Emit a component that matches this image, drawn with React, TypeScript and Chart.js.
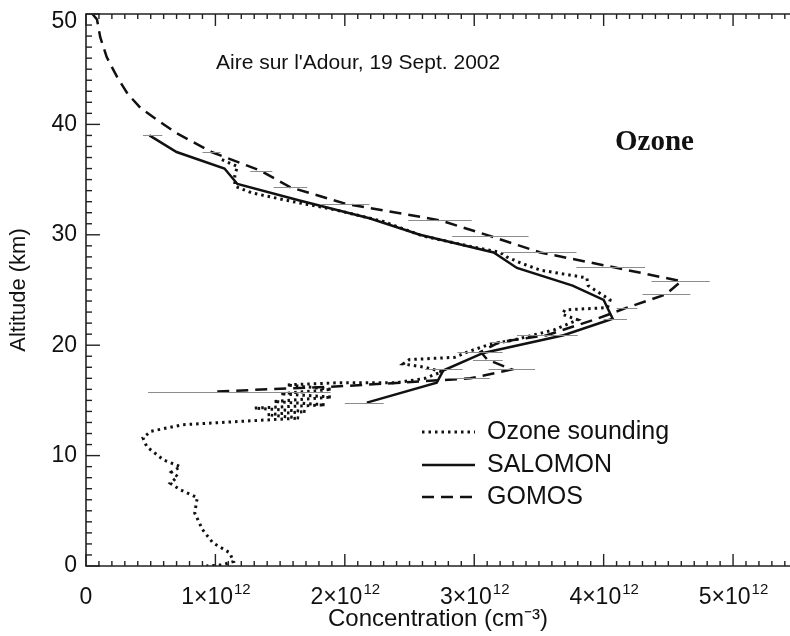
import React, { useEffect, useRef } from "react";
import { Chart, registerables } from "chart.js";

Chart.register(...registerables);

// Concentrations are in units of 10^12 cm^-3, altitudes in km.

// Ozone sounding
const sondeConc = [1.05, 1.17, 1.15, 1.15, 1.28, 1.6, 1.95, 2.3, 2.6, 2.95, 3.2, 3.25, 3.37, 3.51, 3.87, 3.88, 4.05, 4.03, 3.7, 3.68, 3.8, 3.62, 3.35, 3.1, 2.95, 2.85, 2.5, 2.45, 2.62, 2.75, 2.62, 2.4, 1.95, 1.55, 1.9, 1.5, 1.9, 1.45, 1.85, 1.3, 1.7, 1.4, 1.65, 1.2, 0.75, 0.5, 0.44, 0.47, 0.6, 0.73, 0.66, 0.71, 0.65, 0.73, 0.86, 0.84, 0.9, 0.98, 1.11, 1.14, 1.05, 0.93];
const sondeAlt = [36.8, 36.2, 35.4, 34.4, 33.8, 33.0, 32.2, 31.2, 29.9, 29.0, 28.4, 28.0, 27.4, 26.8, 26.1, 25.4, 24.1, 23.4, 23.2, 22.8, 22.3, 21.4, 20.6, 20.0, 19.4, 18.9, 18.7, 18.3, 18.0, 17.6, 17.0, 16.6, 16.6, 16.4, 16.0, 15.6, 15.3, 14.9, 14.6, 14.3, 14.0, 13.7, 13.4, 13.1, 12.8, 12.2, 11.6, 10.8, 9.6, 9.0, 8.5, 8.1, 7.5, 6.9, 6.2, 4.8, 3.3, 2.1, 1.2, 0.4, 0.1, 0.0];

// SALOMON
const salomonConc = [0.49, 0.7, 1.07, 1.17, 1.65, 2.19, 2.58, 3.15, 3.33, 3.76, 4.0, 4.07, 3.69, 3.07, 2.76, 2.71, 2.17];
const salomonAlt = [39.0, 37.5, 36.0, 34.6, 33.1, 31.5, 30.0, 28.4, 27.0, 25.4, 24.1, 22.4, 20.9, 19.3, 17.7, 16.6, 14.8];

// GOMOS
const gomosConc = [0.05, 0.085, 0.11, 0.16, 0.24, 0.32, 0.42, 0.55, 0.7, 0.97, 1.35, 1.58, 2.01, 2.74, 3.12, 3.51, 4.06, 4.6, 4.48, 4.18, 3.95, 3.56, 3.2, 3.05, 3.1, 3.29, 2.97, 2.0, 1.0];
const gomosAlt = [50.0, 49.5, 47.9, 46.1, 44.3, 42.8, 41.5, 40.4, 39.2, 37.5, 35.8, 34.3, 32.8, 31.3, 29.9, 28.4, 27.1, 25.8, 24.6, 23.4, 22.4, 20.9, 20.3, 19.4, 18.7, 17.8, 17.0, 16.3, 15.8];

// Error bars (altitude, low, high)
const errAlt = [39.0, 37.5, 35.8, 34.3, 32.8, 31.3, 29.9, 28.4, 27.1, 25.8, 24.6, 23.4, 22.4, 20.9, 20.3, 19.4, 18.7, 17.8, 17.8, 17.0, 15.8, 14.8];
const errLo = [0.44, 0.9, 1.27, 1.45, 1.82, 2.49, 2.83, 3.21, 3.79, 4.37, 4.3, 4.1, 4.0, 3.33, 3.12, 2.87, 2.99, 3.11, 2.62, 2.81, 0.48, 2.0];
const errHi = [0.59, 1.04, 1.44, 1.71, 2.19, 2.98, 3.42, 3.79, 4.32, 4.82, 4.67, 4.26, 4.18, 3.8, 3.28, 3.22, 3.22, 3.47, 2.91, 3.12, 1.89, 2.3];

const seriesLabels = ["Ozone sounding", "SALOMON", "GOMOS"];
const titleText = "Aire sur l'Adour, 19 Sept. 2002";
const speciesText = "Ozone";
const xAxisTitle = "Concentration (cm\u207B\u00B3)";
const yAxisTitle = "Altitude (km)";
const xTickExponent = "12";

const FONT = "'Liberation Sans', Arial, sans-serif";

const toPts = (xs: number[], ys: number[]) => xs.map((x, i) => ({ x, y: ys[i] }));

const framePlugin = {
  id: "frame",
  afterDatasetsDraw(chart: any) {
    const { ctx } = chart;
    const xs = chart.scales.x;
    const ys = chart.scales.y;
    ctx.save();
    ctx.strokeStyle = "#8c8c8c";
    ctx.lineWidth = 1;
    for (let i = 0; i < errAlt.length; i++) {
      const py = Math.round(ys.getPixelForValue(errAlt[i])) + 0.5;
      ctx.beginPath();
      ctx.moveTo(xs.getPixelForValue(errLo[i]), py);
      ctx.lineTo(xs.getPixelForValue(errHi[i]), py);
      ctx.stroke();
    }
    ctx.restore();
  },
  afterDraw(chart: any) {
    const { ctx, chartArea } = chart;
    const xs = chart.scales.x;
    const ys = chart.scales.y;
    const { left, top, bottom, right } = chartArea;
    ctx.save();
    ctx.strokeStyle = "#222";
    ctx.lineWidth = 1.6;
    ctx.beginPath();
    ctx.moveTo(right + 2, top);
    ctx.lineTo(left, top);
    ctx.lineTo(left, bottom);
    ctx.lineTo(right + 2, bottom);
    ctx.stroke();
    ctx.lineWidth = 1.4;
    for (let v = 0; v <= 50; v += 1) {
      const py = ys.getPixelForValue(v);
      const len = v % 10 === 0 ? 14 : 6;
      ctx.beginPath();
      ctx.moveTo(left, py);
      ctx.lineTo(left + len, py);
      ctx.stroke();
    }
    for (let k = 0; k <= 60; k++) {
      const v = k * 0.1;
      if (v > xs.max + 1e-9) break;
      const px = xs.getPixelForValue(v);
      const len = k % 10 === 0 ? 12 : 5;
      ctx.beginPath();
      ctx.moveTo(px, bottom);
      ctx.lineTo(px, bottom - len);
      ctx.moveTo(px, top);
      ctx.lineTo(px, top + len);
      ctx.stroke();
    }
    ctx.fillStyle = "#111";

    // y tick labels from the library's ticks
    ctx.font = `23px ${FONT}`;
    ctx.textAlign = "right";
    ctx.textBaseline = "middle";
    for (const t of ys.ticks) {
      const py = ys.getPixelForValue(t.value);
      ctx.fillText(String(t.value), left - 9, Math.max(py, top + 8));
    }
    // x tick labels with superscript exponent
    ctx.textBaseline = "alphabetic";
    ctx.textAlign = "left";
    const base = bottom + 38;
    for (const t of xs.ticks) {
      const v = Number(t.value);
      const n = Math.round(v);
      if (Math.abs(v - n) > 1e-6) continue;
      const px = xs.getPixelForValue(v);
      ctx.font = `23px ${FONT}`;
      if (n === 0) {
        const w = ctx.measureText("0").width;
        ctx.fillText("0", px - w / 2, base);
        continue;
      }
      const main = `${n}\u00D710`;
      const wm = ctx.measureText(main).width;
      ctx.font = `15px ${FONT}`;
      const we = ctx.measureText(xTickExponent).width;
      const x0 = px - (wm + we) / 2;
      ctx.font = `23px ${FONT}`;
      ctx.fillText(main, x0, base);
      ctx.font = `15px ${FONT}`;
      ctx.fillText(xTickExponent, x0 + wm + 1, base - 10);
    }

    ctx.textBaseline = "alphabetic";
    ctx.textAlign = "left";
    ctx.font = `21px ${FONT}`;
    ctx.fillText(titleText, left + 130, top + 55);
    ctx.font = `bold 29px 'Liberation Serif', 'Times New Roman', serif`;
    ctx.fillText(speciesText, left + 529, top + 136);
    const ds = chart.data.datasets;
    const lx0 = left + 336;
    const lx1 = left + 389;
    const rows = [top + 418, top + 451, top + 483];
    ctx.font = `25px ${FONT}`;
    ctx.textBaseline = "middle";
    for (let i = 0; i < ds.length; i++) {
      ctx.save();
      ctx.strokeStyle = ds[i].borderColor;
      ctx.lineWidth = ds[i].borderWidth;
      ctx.setLineDash(ds[i].borderDash || []);
      ctx.beginPath();
      ctx.moveTo(lx0, rows[i]);
      ctx.lineTo(lx1, rows[i]);
      ctx.stroke();
      ctx.restore();
      ctx.fillText(ds[i].label, lx1 + 12, rows[i]);
    }
    ctx.restore();
  },
};

export default function App() {
  const ref = useRef<HTMLCanvasElement | null>(null);
  useEffect(() => {
    if (!ref.current) return;
    const chart = new Chart(ref.current, {
      type: "scatter",
      data: {
        datasets: [
          {
            label: seriesLabels[0],
            data: toPts(sondeConc, sondeAlt),
            showLine: true,
            borderColor: "#111",
            borderWidth: 3,
            borderDash: [2.5, 4],
            pointRadius: 0,
            tension: 0,
          },
          {
            label: seriesLabels[1],
            data: toPts(salomonConc, salomonAlt),
            showLine: true,
            borderColor: "#111",
            borderWidth: 2.5,
            pointRadius: 0,
            tension: 0,
          },
          {
            label: seriesLabels[2],
            data: toPts(gomosConc, gomosAlt),
            showLine: true,
            borderColor: "#111",
            borderWidth: 2.5,
            borderDash: [12, 7],
            pointRadius: 0,
            tension: 0,
          },
        ],
      },
      options: {
        animation: false,
        responsive: false,
        layout: { padding: { top: 14, right: 0, left: 0, bottom: 0 } },
        plugins: { legend: { display: false }, tooltip: { enabled: false } },
        scales: {
          x: {
            type: "linear",
            min: 0,
            max: 5.44,
            grid: { display: false, drawTicks: false },
            border: { display: false },
            afterFit: (s: any) => {
              s.height = 70;
              s.paddingLeft = 0;
              s.paddingRight = 0;
            },
            ticks: {
              display: false,
              stepSize: 1,
              includeBounds: false,
            },
            title: {
              display: true,
              text: xAxisTitle,
              color: "#111",
              font: { family: FONT, size: 24 },
              padding: { top: 0, bottom: 2 },
            },
          },
          y: {
            type: "linear",
            min: 0,
            max: 50,
            grid: { display: false, drawTicks: false },
            border: { display: false },
            afterFit: (s: any) => {
              s.width = 86;
              s.paddingTop = 0;
              s.paddingBottom = 0;
            },
            ticks: {
              display: false,
              stepSize: 10,
            },
            title: {
              display: true,
              text: yAxisTitle,
              color: "#111",
              font: { family: FONT, size: 22 },
              padding: { top: 6, bottom: 0 },
            },
          },
        },
      },
      plugins: [framePlugin],
    });
    return () => chart.destroy();
  }, []);
  return (
    <div style={{ position: "absolute", left: 0, top: 0, width: 790, height: 636, background: "#fff" }}>
      <canvas ref={ref} width={790} height={636} style={{ display: "block" }} />
    </div>
  );
}
